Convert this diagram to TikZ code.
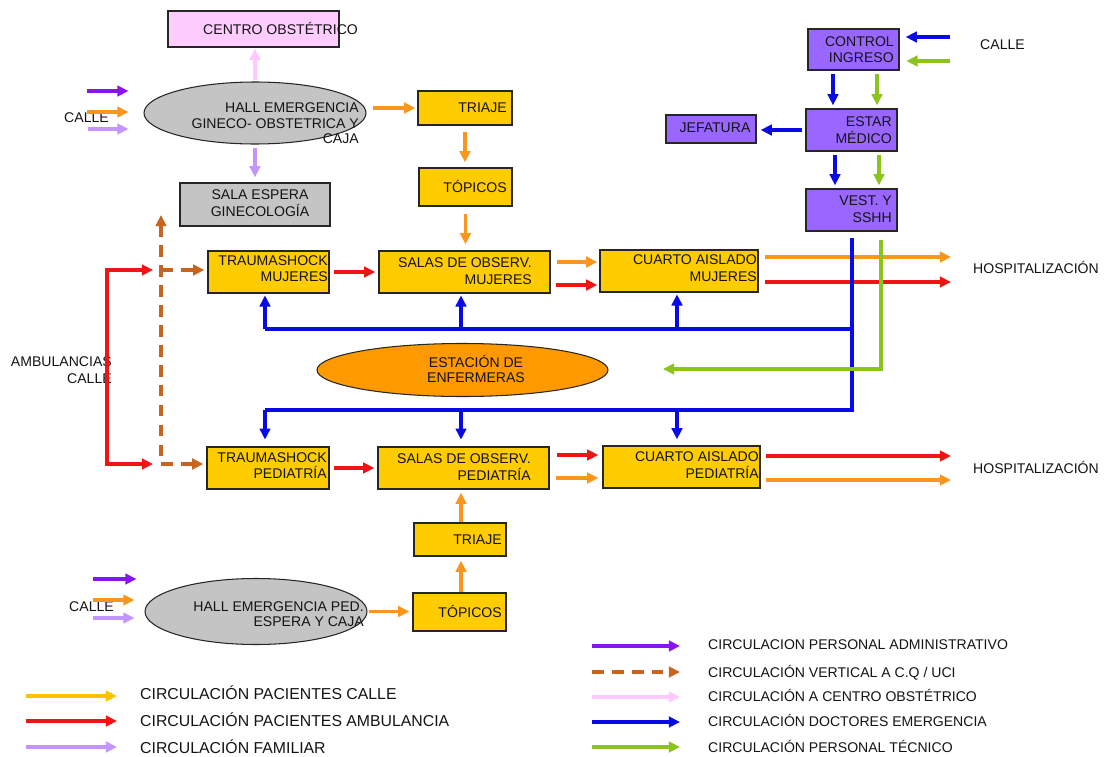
\documentclass[tikz,border=0pt]{standalone}
\usepackage{fontspec}
\setmainfont{Liberation Sans}
\usetikzlibrary{arrows.meta,shapes.geometric}
\definecolor{cYel}{HTML}{FFCC00}
\definecolor{cPurB}{HTML}{9966FF}
\definecolor{cGray}{HTML}{C4C4C4}
\definecolor{cPinkB}{HTML}{FFCCFF}
\definecolor{cOrgF}{HTML}{FF9900}
\definecolor{aOrg}{HTML}{FA961E}
\definecolor{aRed}{HTML}{F01414}
\definecolor{aLav}{HTML}{C396FF}
\definecolor{aPur}{HTML}{8A14F0}
\definecolor{aBrn}{HTML}{C8641E}
\definecolor{aPink}{HTML}{FFC8FF}
\definecolor{aBlu}{HTML}{0A0AE6}
\definecolor{aGrn}{HTML}{8CC31E}
\definecolor{aGold}{HTML}{FFC000}
\tikzset{
  box/.style 2 args={draw=black!85, line width=1.2pt, rectangle, minimum width=#1*0.03cm, minimum height=#2*0.03cm, inner sep=0pt},
  ell/.style 2 args={draw=black!85, line width=0.9pt, ellipse, minimum width=#1*0.03cm, minimum height=#2*0.03cm, inner sep=0pt},
  lbl/.style={font=\fontsize{12}{14}\selectfont, inner sep=0pt, align=right, text=black!92},
  leg/.style={font=\fontsize{13.5}{15}\selectfont, inner sep=0pt, anchor=west, text=black!92},
  legr/.style={font=\fontsize{12}{14}\selectfont, inner sep=0pt, anchor=west, text=black!92},
  tip/.tip={Triangle[length=9.5pt,width=9pt]},
  arr/.style={line width=2.6pt, -tip, shorten >=0.06cm, shorten <=0.06cm},
  bline/.style={line width=2.6pt, aBlu},
  dsh/.style={dash pattern=on 10pt off 7pt}
}
\begin{document}
\begin{tikzpicture}[x=0.03cm,y=-0.03cm]
\useasboundingbox[fill=white] (0,0) rectangle (1109,757);

% ---------- nodes ----------
\node[box={171}{36}, fill=cPinkB] (centro) at (253.5,29) {};
\node[lbl, anchor=west] (centroT) at (203,28) {CENTRO OBSTÉTRICO};

\node[ell={222}{62}, fill=cGray] (hallG) at (255,113) {};
\node[lbl, anchor=east, font=\fontsize{12}{13.2}\selectfont] (hallGT) at (359,123.5) {HALL EMERGENCIA\\GINECO- OBSTETRICA Y\\CAJA};

\node[box={150}{43}, fill=cGray] (sala) at (255,204.5) {};
\node[lbl, align=center] (salaT) at (260,203) {SALA ESPERA\\GINECOLOGÍA};

\node[box={94}{34}, fill=cYel] (triaje1) at (465,108) {};
\node[lbl, anchor=east] (triaje1T) at (507,108) {TRIAJE};
\node[box={93}{38}, fill=cYel] (topicos1) at (465.5,187) {};
\node[lbl, anchor=east] (topicos1T) at (507,186) {TÓPICOS};

\node[box={121}{42}, fill=cYel] (traumaM) at (268.5,272) {};
\node[lbl, anchor=east] (traumaMT) at (328,268.5) {TRAUMASHOCK\\MUJERES};
\node[box={171}{42}, fill=cYel] (salasM) at (464.5,272) {};
\node[lbl, anchor=east] (salasMT) at (532,271) {SALAS DE OBSERV.\\MUJERES};
\node[box={158}{42}, fill=cYel] (cuartoM) at (679,271) {};
\node[lbl, anchor=east] (cuartoMT) at (757,268) {CUARTO AISLADO\\MUJERES};

\node[box={91}{41}, fill=cPurB] (control) at (853.5,49.5) {};
\node[lbl, anchor=east] (controlT) at (894,49.5) {CONTROL\\INGRESO};
\node[box={91}{42}, fill=cPurB] (estar) at (851.5,130) {};
\node[lbl, anchor=east] (estarT) at (892,130) {ESTAR\\MÉDICO};
\node[box={90}{28}, fill=cPurB] (jefa) at (711,129) {};
\node[lbl, align=center] (jefaT) at (715,128) {JEFATURA};
\node[box={91}{42}, fill=cPurB] (vest) at (851.5,210) {};
\node[lbl, anchor=east] (vestT) at (892,209) {VEST. Y\\SSHH};

\node[ell={291}{53}, fill=cOrgF] (estac) at (462.5,370) {};
\node[lbl, align=center, font=\fontsize{12}{13.6}\selectfont] (estacT) at (476,369) {ESTACIÓN DE\\ENFERMERAS};

\node[box={122}{42}, fill=cYel] (traumaP) at (268,468) {};
\node[lbl, anchor=east] (traumaPT) at (327,465.5) {TRAUMASHOCK\\PEDIATRÍA};
\node[box={171}{42}, fill=cYel] (salasP) at (463.5,468) {};
\node[lbl, anchor=east] (salasPT) at (531,467) {SALAS DE OBSERV.\\PEDIATRÍA};
\node[box={157}{42}, fill=cYel] (cuartoP) at (681.5,467) {};
\node[lbl, anchor=east] (cuartoPT) at (759,465) {CUARTO AISLADO\\PEDIATRÍA};

\node[box={92}{33}, fill=cYel] (triaje2) at (460,539.5) {};
\node[lbl, anchor=east] (triaje2T) at (502,540) {TRIAJE};
\node[box={93}{38}, fill=cYel] (topicos2) at (459.5,612) {};
\node[lbl, anchor=east] (topicos2T) at (502,611) {TÓPICOS};

\node[ell={222}{66}, fill=cGray] (hallP) at (256,611.5) {};
\node[lbl, anchor=east, font=\fontsize{12}{12.8}\selectfont] (hallPT) at (364,614.5) {HALL EMERGENCIA PED.\\ESPERA Y CAJA};

% free labels
\node[lbl, anchor=west] (calle1) at (64,118) {CALLE};
\node[lbl, anchor=west] (calle2) at (69,607) {CALLE};
\node[lbl, anchor=west] (calle3) at (980,45) {CALLE};
\node[lbl, anchor=west] (hosp1) at (973,267) {HOSPITALIZACIÓN};
\node[lbl, anchor=west] (hosp2) at (973,467) {HOSPITALIZACIÓN};
\node[lbl, anchor=east] (amb) at (112,370) {AMBULANCIAS\\CALLE};

% ---------- helper coordinates ----------
\coordinate (cg1) at (85,91);  \coordinate (cg2) at (85,112); \coordinate (cg3) at (86,129);
\coordinate (y108) at (0,108);
\coordinate (y262) at (0,262); \coordinate (y285) at (0,285);
\coordinate (hMo) at (951,257); \coordinate (hMr) at (951,282);
\coordinate (cC1) at (950,37); \coordinate (cC2) at (950,61);
\coordinate (xb1) at (833,0); \coordinate (xg1) at (877,0);
\coordinate (xb2) at (835,0); \coordinate (xg2) at (879,0);
\coordinate (bT) at (852,329); \coordinate (bB) at (852,410);
\coordinate (xc1) at (265,0); \coordinate (xc2) at (461,0); \coordinate (xc3) at (677,0);
\coordinate (gC) at (881,369); \coordinate (gE) at (663,369);
\coordinate (rT) at (107,270); \coordinate (rB) at (107,464);
\coordinate (rTe) at (153,270); \coordinate (rBe) at (153,464);
\coordinate (brT) at (161,215); \coordinate (brB) at (161,464); \coordinate (brM) at (161,270);
\coordinate (y455) at (0,455); \coordinate (y478) at (0,478);
\coordinate (hPr) at (951,456); \coordinate (hPo) at (951,480);
\coordinate (cp1) at (93,579); \coordinate (cp2) at (93,600); \coordinate (cp3) at (93,618);

% ---------- connectors ----------
% top left CALLE
\draw[arr, aPur, shorten >=0.45cm] (cg1) -- (cg1 -| hallG.west);
\draw[arr, aOrg, shorten >=0.45cm] (cg2) -- (cg2 -| hallG.west);
\draw[arr, aLav, shorten >=0.45cm] (cg3) -- (cg3 -| hallG.west);
\draw[arr, aPink, shorten <=0.03cm, shorten >=0.03cm] (hallG.north) -- (hallG.north |- centro.south);
\draw[arr, aLav, shorten <=0.09cm, shorten >=0.15cm] (hallG.south) -- (hallG.south |- sala.north);
\draw[arr, aOrg, shorten <=0.2cm] (hallG.east |- y108) -- (triaje1.west |- y108);
\draw[arr, aOrg, shorten <=0.18cm, shorten >=0.15cm] (triaje1.south) -- (triaje1.south |- topicos1.north);
\draw[arr, aOrg, shorten <=0.21cm, shorten >=0.18cm] (topicos1.south) -- (topicos1.south |- salasM.north);

% mujeres row
\draw[arr, aRed, shorten <=0.12cm, shorten >=0.09cm] (traumaM.east) -- (traumaM.east -| salasM.west);
\draw[arr, aOrg, shorten <=0.18cm] (salasM.east |- y262) -- (cuartoM.west |- y262);
\draw[arr, aRed, shorten <=0.15cm] (salasM.east |- y285) -- (cuartoM.west |- y285);
\draw[arr, aOrg, shorten <=0.18cm, shorten >=0cm] (cuartoM.east |- hMo) -- (hMo);
\draw[arr, aRed, shorten <=0.18cm, shorten >=0cm] (cuartoM.east |- hMr) -- (hMr);

% staff column
\draw[arr, aBlu, shorten <=0cm, shorten >=0.18cm] (cC1) -- (control.east |- cC1);
\draw[arr, aGrn, shorten <=0cm, shorten >=0.2cm] (cC2) -- (control.east |- cC2);
\draw[arr, aBlu, shorten <=0.09cm, shorten >=0.09cm] (control.south -| xb1) -- (estar.north -| xb1);
\draw[arr, aGrn, shorten <=0.09cm, shorten >=0.09cm] (control.south -| xg1) -- (estar.north -| xg1);
\draw[arr, aBlu, shorten <=0.09cm, shorten >=0.12cm] (estar.west) -- (estar.west -| jefa.east);
\draw[arr, aBlu, shorten <=0.09cm, shorten >=0.09cm] (estar.south -| xb2) -- (vest.north -| xb2);
\draw[arr, aGrn, shorten <=0.09cm, shorten >=0.09cm] (estar.south -| xg2) -- (vest.north -| xg2);

% doctors network (blue)
\draw[bline, shorten <=0.18cm] (vest.south -| bT) -- (bB) -- (xc1 |- bB);
\draw[bline] (bT) -- (xc1 |- bT);
\draw[arr, aBlu, shorten <=0cm, shorten >=0.05cm] (xc1 |- bT) -- (xc1 |- traumaM.south);
\draw[arr, aBlu, shorten <=0cm, shorten >=0.05cm] (xc2 |- bT) -- (xc2 |- salasM.south);
\draw[arr, aBlu, shorten <=0cm, shorten >=0.05cm] (xc3 |- bT) -- (xc3 |- cuartoM.south);
\draw[arr, aBlu, shorten <=0cm, shorten >=0.2cm] (xc1 |- bB) -- (xc1 |- traumaP.north);
\draw[arr, aBlu, shorten <=0cm, shorten >=0.2cm] (xc2 |- bB) -- (xc2 |- salasP.north);
\draw[arr, aBlu, shorten <=0cm, shorten >=0.18cm] (xc3 |- bB) -- (xc3 |- cuartoP.north);

% technical staff (green)
\draw[arr, aGrn, shorten <=0.24cm, shorten >=0cm] (vest.south -| gC) -- (gC) -- (gE);

% ambulance (red)
\draw[line width=2.6pt, aRed, tip-tip] (rTe) -- (rT) -- (rB) -- (rBe);

% vertical circulation (brown dashed)
\draw[line width=2.6pt, aBrn, dsh, tip-tip, shorten >=0.09cm] (brT) -- (brB) -- (traumaP.west |- brB);
\draw[line width=2.6pt, aBrn, dsh, -tip, shorten >=0.09cm] (brM) -- (traumaM.west |- brM);

% pediatric row
\draw[arr, aRed, shorten <=0.12cm, shorten >=0.09cm] (traumaP.east) -- (traumaP.east -| salasP.west);
\draw[arr, aRed, shorten <=0.21cm, shorten >=0.12cm] (salasP.east |- y455) -- (cuartoP.west |- y455);
\draw[arr, aOrg, shorten <=0.18cm, shorten >=0.12cm] (salasP.east |- y478) -- (cuartoP.west |- y478);
\draw[arr, aRed, shorten <=0.15cm, shorten >=0cm] (cuartoP.east |- hPr) -- (hPr);
\draw[arr, aOrg, shorten <=0.15cm, shorten >=0cm] (cuartoP.east |- hPo) -- (hPo);

% bottom left
\draw[arr, aPur, shorten <=0cm, shorten >=0.24cm] (cp1) -- (cp1 -| hallP.west);
\draw[arr, aOrg, shorten <=0cm, shorten >=0.3cm] (cp2) -- (cp2 -| hallP.west);
\draw[arr, aLav, shorten <=0cm, shorten >=0.3cm] (cp3) -- (cp3 -| hallP.west);
\draw[arr, aOrg, shorten <=0.03cm, shorten >=0.09cm] (hallP.east) -- (hallP.east -| topicos2.west);
\draw[arr, aOrg, shorten <=0cm, shorten >=0.12cm] (xc2 |- topicos2.north) -- (xc2 |- triaje2.south);
\draw[arr, aOrg, shorten <=0cm, shorten >=0.09cm] (xc2 |- triaje2.north) -- (xc2 |- salasP.south);

% ---------- legend ----------
\coordinate (L1a) at (26,696); \coordinate (L1b) at (117,696);
\coordinate (L2a) at (26,721); \coordinate (L2b) at (117,721);
\coordinate (L3a) at (26,747); \coordinate (L3b) at (117,747);
\draw[arr, aGold, shorten <=0cm, shorten >=0cm] (L1a) -- (L1b);
\draw[arr, aRed, shorten <=0cm, shorten >=0cm] (L2a) -- (L2b);
\draw[arr, aLav, shorten <=0cm, shorten >=0cm] (L3a) -- (L3b);
\node[leg] (leg1) at (140,693) {CIRCULACIÓN PACIENTES CALLE};
\node[leg] (leg2) at (140,720) {CIRCULACIÓN PACIENTES AMBULANCIA};
\node[leg] (leg3) at (140,747) {CIRCULACIÓN FAMILIAR};

\coordinate (R1a) at (592,646); \coordinate (R1b) at (680,646);
\coordinate (R2a) at (592,672); \coordinate (R2b) at (680,672);
\coordinate (R3a) at (592,697); \coordinate (R3b) at (680,697);
\coordinate (R4a) at (592,722); \coordinate (R4b) at (680,722);
\coordinate (R5a) at (592,747); \coordinate (R5b) at (680,747);
\draw[arr, aPur, shorten <=0cm, shorten >=0cm] (R1a) -- (R1b);
\draw[arr, aBrn, dsh, shorten <=0cm, shorten >=0cm] (R2a) -- (R2b);
\draw[arr, aPink, shorten <=0cm, shorten >=0cm] (R3a) -- (R3b);
\draw[arr, aBlu, shorten <=0cm, shorten >=0cm] (R4a) -- (R4b);
\draw[arr, aGrn, shorten <=0cm, shorten >=0cm] (R5a) -- (R5b);
\node[legr] (lgr1) at (708,645) {CIRCULACION PERSONAL ADMINISTRATIVO};
\node[legr] (lgr2) at (708,673) {CIRCULACIÓN VERTICAL A C.Q / UCI};
\node[legr] (lgr3) at (708,695) {CIRCULACIÓN A CENTRO OBSTÉTRICO};
\node[legr] (lgr4) at (708,720) {CIRCULACIÓN DOCTORES EMERGENCIA};
\node[legr] (lgr5) at (708,746) {CIRCULACIÓN PERSONAL TÉCNICO};
\end{tikzpicture}
\end{document}
